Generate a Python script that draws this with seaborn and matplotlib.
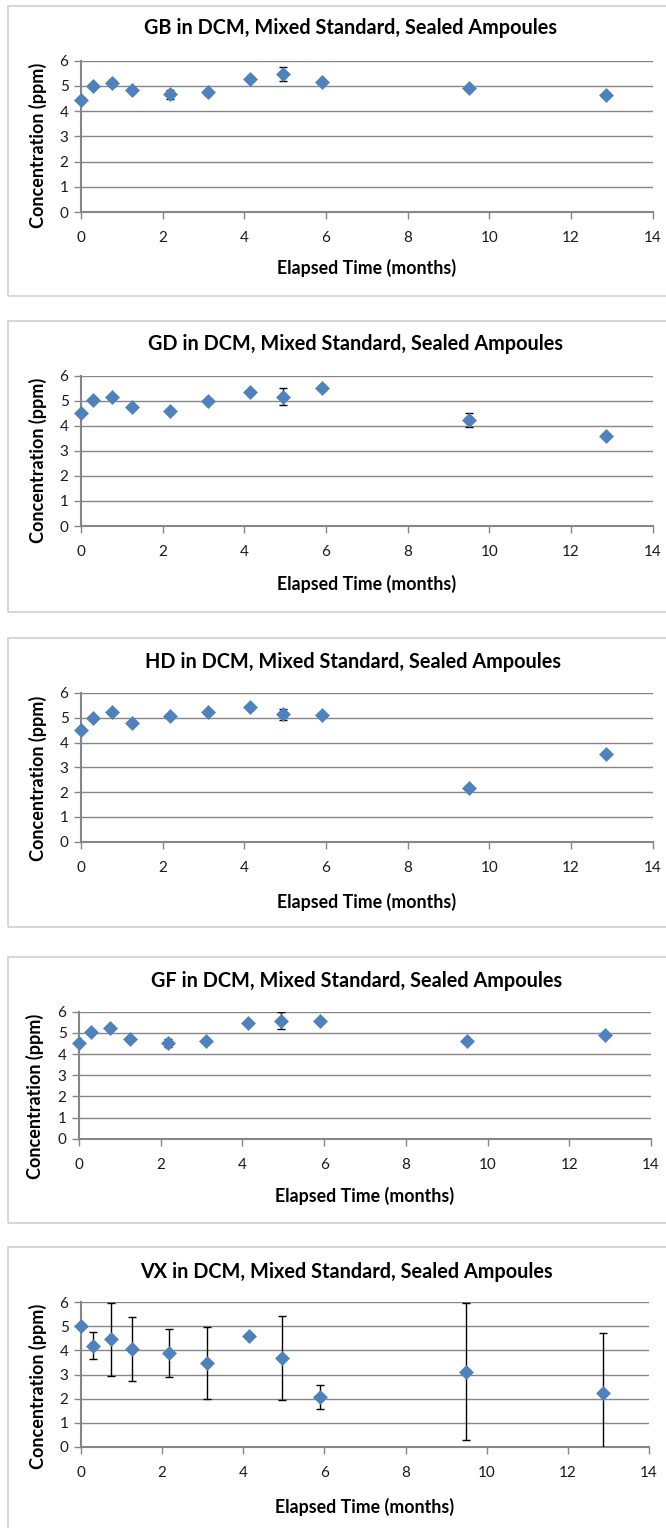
import matplotlib
matplotlib.use("Agg")
import matplotlib.pyplot as plt
import seaborn as sns
import pandas as pd
from matplotlib.patches import Rectangle

# ---------------- data ----------------
months = [0.0, 0.3, 0.75, 1.25, 2.17, 3.1, 4.13, 4.95, 5.9, 9.5, 12.87]

gb_conc = [4.43, 5.01, 5.11, 4.82, 4.66, 4.75, 5.27, 5.46, 5.14, 4.90, 4.64]
gb_err = [0.05, 0.05, 0.12, 0.05, 0.17, 0.10, 0.08, 0.28, 0.06, 0.05, 0.05]

gd_conc = [4.51, 5.03, 5.13, 4.75, 4.61, 5.00, 5.36, 5.16, 5.49, 4.23, 3.58]
gd_err = [0.05, 0.05, 0.08, 0.05, 0.05, 0.05, 0.06, 0.34, 0.05, 0.27, 0.05]

hd_conc = [4.51, 5.00, 5.25, 4.78, 5.06, 5.25, 5.42, 5.14, 5.11, 2.18, 3.55]
hd_err = [0.05, 0.05, 0.05, 0.05, 0.05, 0.05, 0.05, 0.22, 0.06, 0.05, 0.05]

gf_conc = [4.50, 5.02, 5.21, 4.69, 4.52, 4.63, 5.48, 5.58, 5.54, 4.63, 4.89]
gf_err = [0.05, 0.05, 0.08, 0.05, 0.20, 0.05, 0.05, 0.40, 0.06, 0.05, 0.08]

vx_conc = [4.99, 4.19, 4.45, 4.05, 3.90, 3.46, 4.59, 3.69, 2.07, 3.11, 2.22]
vx_err = [0.0, 0.55, 1.50, 1.32, 1.00, 1.49, 0.08, 1.74, 0.48, 2.83, 2.51]

agents = ["GB", "GD", "HD", "GF", "VX"]
title_suffix = " in DCM, Mixed Standard, Sealed Ampoules"
x_label = "Elapsed Time (months)"
y_label = "Concentration (ppm)"
x_ticks = [0, 2, 4, 6, 8, 10, 12, 14]
y_ticks = [0, 1, 2, 3, 4, 5, 6]

series = {
    "GB": (gb_conc, gb_err),
    "GD": (gd_conc, gd_err),
    "HD": (hd_conc, hd_err),
    "GF": (gf_conc, gf_err),
    "VX": (vx_conc, vx_err),
}

# ---------------- layout (pixels) ----------------
W, H = 666, 1528
# box top, box bottom, axes left, axes right, axes top, axes bottom,
# title center x, title y, ylabel x, ylabel center y, xlabel y
layout = {
    "GB": (6, 296, 81, 652.5, 60.7, 212, 350, 28, 38, 145, 268),
    "GD": (321, 612, 81, 652.5, 375.7, 526, 355, 344, 38, 460, 584),
    "HD": (638, 927, 81, 652.5, 693, 841.7, 353, 662, 38, 778, 902),
    "GF": (957, 1223, 79, 651, 1011.7, 1138.7, 357, 981, 35, 1096, 1196),
    "VX": (1247, 1560, 81, 649, 1302, 1447, 346, 1272, 38, 1386, 1507),
}

sns.set_style("white")
plt.rcParams["font.family"] = ["Lato", "DejaVu Sans"]

BLUE = "#4F81BD"
GRID = "#868686"
BOXC = "#D0D0D0"

fig = plt.figure(figsize=(W / 100, H / 100), dpi=100)
fig.patch.set_facecolor("white")

for agent in agents:
    bt, bb, al, ar, at, ab, tx, ty, ylx, yly, xly = layout[agent]
    conc, err = series[agent]

    # panel frame
    fig.patches.append(Rectangle((8 / W, 1 - bb / H), (700 - 8) / W, (bb - bt) / H,
                                 transform=fig.transFigure, fill=False,
                                 edgecolor=BOXC, linewidth=1.2, zorder=0))

    ax = fig.add_axes([al / W, 1 - ab / H, (ar - al) / W, (ab - at) / H])
    df = pd.DataFrame({"months": months, "conc": conc, "err": err})

    ax.errorbar(df["months"], df["conc"], yerr=df["err"], fmt="none",
                ecolor="black", elinewidth=1.0, capsize=3, capthick=1.0, zorder=3)
    sns.scatterplot(data=df, x="months", y="conc", ax=ax, marker="D", s=50,
                    color=BLUE, edgecolor=BLUE, linewidth=0.5, zorder=4,
                    legend=False, clip_on=False)

    ax.set_xlim(0, 14)
    ax.set_ylim(0, 6)
    ax.set_xticks(x_ticks)
    ax.set_yticks(y_ticks)
    ax.yaxis.grid(True, color=GRID, linewidth=1.0)
    ax.xaxis.grid(False)
    ax.set_axisbelow(True)
    for s in ["top", "right"]:
        ax.spines[s].set_visible(False)
    for s in ["left", "bottom"]:
        ax.spines[s].set_color(GRID)
        ax.spines[s].set_linewidth(1.5)
    ax.tick_params(axis="both", direction="out", length=5, width=1.0, color=GRID,
                   labelsize=11, labelcolor="#1a1a1a", left=True, bottom=True)
    ax.tick_params(axis="x", pad=9)
    ax.tick_params(axis="y", pad=4)

    ax.set_xlabel("")
    ax.set_ylabel("")
    fig.text(tx / W, 1 - ty / H, agent + title_suffix, ha="center", va="center",
             fontsize=14.3, fontweight="bold", color="black")
    fig.text((al + ar) / 2 / W, 1 - xly / H, x_label, ha="center", va="center",
             fontsize=12.8, fontweight="bold", color="black")
    fig.text(ylx / W, 1 - yly / H, y_label, ha="center", va="center", rotation=90,
             fontsize=13.0, fontweight="bold", color="black")

fig.savefig("out.png", dpi=100, facecolor="white")
